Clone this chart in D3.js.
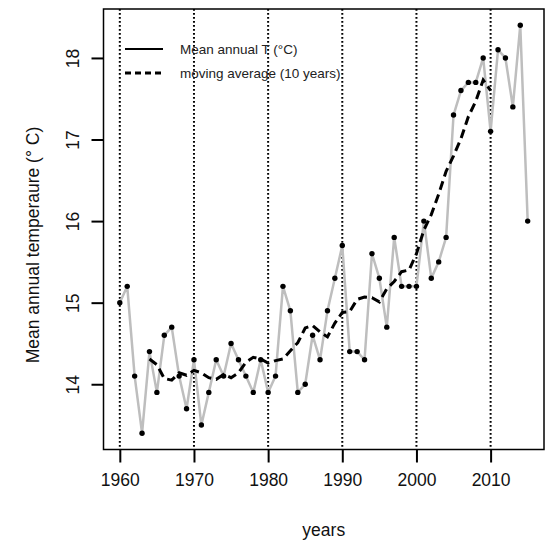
<!DOCTYPE html>
<html>
<head>
<meta charset="utf-8">
<script src="https://cdn.jsdelivr.net/npm/d3@7"></script>
<style>
  html, body { margin: 0; padding: 0; background: #fff; }
  svg { display: block; font-family: "Liberation Sans", Arial, Helvetica, sans-serif; }
</style>
</head>
<body>
<svg id="chart"></svg>
<script>
// Mean annual temperature with a 10-year centred moving average

const years = d3.range(1960, 2016);
const temps = [
  15.0, 15.2, 14.1, 13.4, 14.4, 13.9, 14.6, 14.7, 14.1, 13.7,
  14.3, 13.5, 13.9, 14.3, 14.1, 14.5, 14.3, 14.1, 13.9, 14.3,
  13.9, 14.1, 15.2, 14.9, 13.9, 14.0, 14.6, 14.3, 14.9, 15.3,
  15.7, 14.4, 14.4, 14.3, 15.6, 15.3, 14.7, 15.8, 15.2, 15.2,
  15.2, 16.0, 15.3, 15.5, 15.8, 17.3, 17.6, 17.7, 17.7, 18.0,
  17.1, 18.1, 18.0, 17.4, 18.4, 16.0
];

// dashed curve, 1964 .. 2010
const maYears = d3.range(1964, 2011);
const maValues = [
  14.31, 14.24, 14.07, 14.05, 14.14, 14.11, 14.17, 14.14, 14.08, 14.06,
  14.12, 14.08, 14.14, 14.27, 14.33, 14.31, 14.26, 14.29, 14.31, 14.41,
  14.51, 14.69, 14.72, 14.64, 14.58, 14.75, 14.88, 14.89, 15.04, 15.07,
  15.06, 15.01, 15.17, 15.26, 15.38, 15.40, 15.60, 15.89, 16.08, 16.33,
  16.61, 16.80, 17.01, 17.28, 17.47, 17.73, 17.60
];

const xTicks = [1960, 1970, 1980, 1990, 2000, 2010];
const yTicks = [14, 15, 16, 17, 18];
const legendLabels = ["Mean annual T (°C)", "moving average (10 years)"];

const W = 548, H = 546;
const BOX = { left: 103.5, right: 544, top: 9, bottom: 449.5 };

const svg = d3.select("#chart").attr("width", W).attr("height", H);

const x = d3.scaleLinear().domain([1957.8, 2017.2]).range([BOX.left, BOX.right]);
const y = d3.scaleLinear().domain([13.2, 18.6]).range([BOX.bottom, BOX.top]);

// decade guides
svg.append("g")
  .selectAll("line").data(xTicks).enter()
  .append("line")
  .attr("x1", d => x(d)).attr("x2", d => x(d))
  .attr("y1", BOX.top).attr("y2", BOX.bottom)
  .attr("stroke", "#000")
  .attr("stroke-width", 2)
  .attr("stroke-dasharray", "1.8 2.2");

// annual series
const pts = years.map((yr, i) => [yr, temps[i]]);
svg.append("path")
  .attr("d", d3.line().x(d => x(d[0])).y(d => y(d[1]))(pts))
  .attr("fill", "none")
  .attr("stroke", "#bebebe")
  .attr("stroke-width", 2.5)
  .attr("stroke-linejoin", "round");

svg.append("g")
  .selectAll("circle").data(pts).enter()
  .append("circle")
  .attr("cx", d => x(d[0])).attr("cy", d => y(d[1]))
  .attr("r", 2.7)
  .attr("fill", "#000");

// moving average
const ma = maYears.map((yr, i) => [yr, maValues[i]]);
svg.append("path")
  .attr("d", d3.line().x(d => x(d[0])).y(d => y(d[1]))(ma))
  .attr("fill", "none")
  .attr("stroke", "#000")
  .attr("stroke-width", 3)
  .attr("stroke-dasharray", "9 5");

// box
svg.append("rect")
  .attr("x", BOX.left).attr("y", BOX.top)
  .attr("width", BOX.right - BOX.left).attr("height", BOX.bottom - BOX.top)
  .attr("fill", "none")
  .attr("stroke", "#000")
  .attr("stroke-width", 1.5);

// x axis
const xAxis = svg.append("g").attr("transform", `translate(0,${BOX.bottom})`)
  .call(d3.axisBottom(x).tickValues(xTicks).tickFormat(d3.format("d"))
    .tickSize(13).tickPadding(11));
xAxis.select(".domain").remove();
xAxis.selectAll("line").attr("stroke-width", 2);
xAxis.selectAll("text").attr("font-size", 17.5).attr("fill", "#111")
  .attr("font-family", "Liberation Sans, Arial, sans-serif");

// y axis
const yAxis = svg.append("g").attr("transform", `translate(${BOX.left},0)`)
  .call(d3.axisLeft(y).tickValues(yTicks).tickSize(12).tickFormat(d => d));
yAxis.select(".domain").remove();
yAxis.selectAll("line").attr("stroke-width", 2);
yAxis.selectAll("text").remove();
yAxis.selectAll(".tick").append("text")
  .attr("transform", "translate(-25,0) rotate(-90)")
  .attr("text-anchor", "middle")
  .attr("font-size", 17.5)
  .attr("fill", "#111")
  .attr("font-family", "Liberation Sans, Arial, sans-serif")
  .text(d => d);

// axis titles
svg.append("text")
  .attr("x", (BOX.left + BOX.right) / 2).attr("y", 536)
  .attr("text-anchor", "middle")
  .attr("font-size", 17.5).attr("fill", "#111")
  .text("years");

svg.append("text")
  .attr("transform", "translate(39,245) rotate(-90)")
  .attr("text-anchor", "middle")
  .attr("font-size", 17.5).attr("fill", "#111")
  .text("Mean annual temperaure (° C)");

// legend (no frame)
const legend = svg.append("g");
legendLabels.forEach((label, i) => {
  const ly = 49 + i * 24;
  legend.append("line")
    .attr("x1", 125).attr("x2", 163).attr("y1", ly).attr("y2", ly)
    .attr("stroke", "#000")
    .attr("stroke-width", i === 0 ? 1.8 : 3)
    .attr("stroke-dasharray", i === 0 ? null : "6 4");
  legend.append("text")
    .attr("x", 180).attr("y", ly).attr("dy", "0.35em")
    .attr("font-size", 13.5).attr("fill", "#222")
    .text(label);
});
</script>
</body>
</html>
